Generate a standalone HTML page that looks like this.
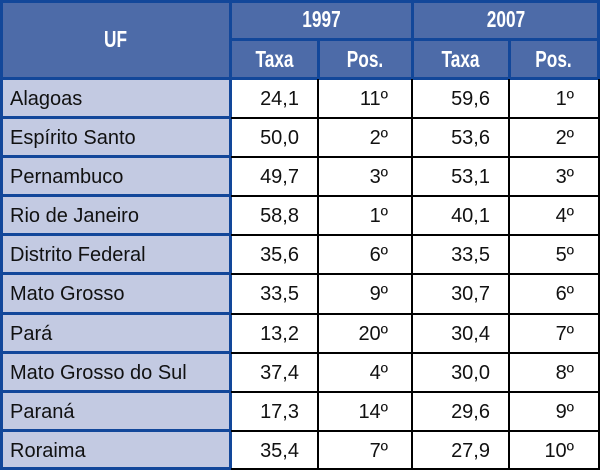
<!DOCTYPE html>
<html><head><meta charset="utf-8"><style>
html,body{margin:0;padding:0;background:#fff;width:600px;height:470px;overflow:hidden;position:relative;font-family:"Liberation Sans",sans-serif;}
div{position:absolute;box-sizing:border-box;}
.h{color:#fff;font-weight:bold;font-size:23px;text-align:center;transform:scaleX(0.75);}
.r{height:39px;line-height:40px;font-size:20px;color:#111;white-space:nowrap;}
.bl{background:#12479a;}
.bk{background:#000;}
</style></head><body>
<div style="left:0;top:0;width:600px;height:79px;background:#4d6ba8"></div>
<div style="left:0;top:79px;width:231px;height:391px;background:#c3cae2"></div>
<div class="bl" style="left:0;top:0;width:600px;height:3px"></div>
<div class="bl" style="left:231px;top:38px;width:369px;height:3px"></div>
<div class="bl" style="left:0;top:77px;width:600px;height:3px"></div>
<div class="bl" style="left:0;top:0;width:3px;height:470px"></div>
<div class="bl" style="left:229px;top:0;width:3px;height:470px"></div>
<div class="bl" style="left:597px;top:0;width:3px;height:79px"></div>
<div class="bl" style="left:411px;top:0;width:3px;height:79px"></div>
<div class="bl" style="left:317px;top:39px;width:3px;height:40px"></div>
<div class="bl" style="left:508px;top:39px;width:3px;height:40px"></div>
<div class="bk" style="left:317px;top:79px;width:2px;height:391px"></div>
<div class="bk" style="left:411px;top:79px;width:2px;height:391px"></div>
<div class="bk" style="left:508px;top:79px;width:2px;height:391px"></div>
<div class="bk" style="left:598px;top:79px;width:2px;height:391px"></div>
<div class="bl" style="left:0;top:116px;width:231px;height:3px"></div><div class="bk" style="left:231px;top:117px;width:369px;height:2px"></div>
<div class="bl" style="left:0;top:155px;width:231px;height:3px"></div><div class="bk" style="left:231px;top:156px;width:369px;height:2px"></div>
<div class="bl" style="left:0;top:194px;width:231px;height:3px"></div><div class="bk" style="left:231px;top:195px;width:369px;height:2px"></div>
<div class="bl" style="left:0;top:233px;width:231px;height:3px"></div><div class="bk" style="left:231px;top:234px;width:369px;height:2px"></div>
<div class="bl" style="left:0;top:272px;width:231px;height:3px"></div><div class="bk" style="left:231px;top:273px;width:369px;height:2px"></div>
<div class="bl" style="left:0;top:312px;width:231px;height:3px"></div><div class="bk" style="left:231px;top:313px;width:369px;height:2px"></div>
<div class="bl" style="left:0;top:351px;width:231px;height:3px"></div><div class="bk" style="left:231px;top:352px;width:369px;height:2px"></div>
<div class="bl" style="left:0;top:390px;width:231px;height:3px"></div><div class="bk" style="left:231px;top:391px;width:369px;height:2px"></div>
<div class="bl" style="left:0;top:429px;width:231px;height:3px"></div><div class="bk" style="left:231px;top:430px;width:369px;height:2px"></div>
<div class="bl" style="left:0;top:467px;width:231px;height:3px"></div><div class="bk" style="left:231px;top:468px;width:369px;height:2px"></div>
<div class="h" style="left:0;top:26px;width:231px;line-height:26px">UF</div>
<div class="h" style="left:231px;top:5px;width:181px;line-height:28px">1997</div>
<div class="h" style="left:412px;top:5px;width:188px;line-height:28px">2007</div>
<div class="h" style="left:231px;top:44px;width:87px;line-height:30px">Taxa</div>
<div class="h" style="left:318px;top:44px;width:94px;line-height:30px">Pos.</div>
<div class="h" style="left:412px;top:44px;width:97px;line-height:30px">Taxa</div>
<div class="h" style="left:509px;top:44px;width:89px;line-height:30px">Pos.</div>
<div style="left:0;top:79px;width:600px;height:391px">
<div class="r" style="left:10px;top:0">Alagoas</div><div class="r" style="left:10px;top:39px">Espírito Santo</div><div class="r" style="left:10px;top:78px">Pernambuco</div><div class="r" style="left:10px;top:117px">Rio de Janeiro</div><div class="r" style="left:10px;top:156px">Distrito Federal</div><div class="r" style="left:10px;top:195px">Mato Grosso</div><div class="r" style="left:10px;top:235px">Pará</div><div class="r" style="left:10px;top:274px">Mato Grosso do Sul</div><div class="r" style="left:10px;top:313px">Paraná</div><div class="r" style="left:10px;top:352px">Roraima</div>
<div style="left:231px;top:0;width:68px;text-align:right">
<div class="r" style="right:0;top:0">24,1</div><div class="r" style="right:0;top:39px">50,0</div><div class="r" style="right:0;top:78px">49,7</div><div class="r" style="right:0;top:117px">58,8</div><div class="r" style="right:0;top:156px">35,6</div><div class="r" style="right:0;top:195px">33,5</div><div class="r" style="right:0;top:235px">13,2</div><div class="r" style="right:0;top:274px">37,4</div><div class="r" style="right:0;top:313px">17,3</div><div class="r" style="right:0;top:352px">35,4</div></div>
<div style="left:318px;top:0;width:70px">
<div class="r" style="right:0;top:0">11º</div><div class="r" style="right:0;top:39px">2º</div><div class="r" style="right:0;top:78px">3º</div><div class="r" style="right:0;top:117px">1º</div><div class="r" style="right:0;top:156px">6º</div><div class="r" style="right:0;top:195px">9º</div><div class="r" style="right:0;top:235px">20º</div><div class="r" style="right:0;top:274px">4º</div><div class="r" style="right:0;top:313px">14º</div><div class="r" style="right:0;top:352px">7º</div></div>
<div style="left:412px;top:0;width:78px">
<div class="r" style="right:0;top:0">59,6</div><div class="r" style="right:0;top:39px">53,6</div><div class="r" style="right:0;top:78px">53,1</div><div class="r" style="right:0;top:117px">40,1</div><div class="r" style="right:0;top:156px">33,5</div><div class="r" style="right:0;top:195px">30,7</div><div class="r" style="right:0;top:235px">30,4</div><div class="r" style="right:0;top:274px">30,0</div><div class="r" style="right:0;top:313px">29,6</div><div class="r" style="right:0;top:352px">27,9</div></div>
<div style="left:509px;top:0;width:65px">
<div class="r" style="right:0;top:0">1º</div><div class="r" style="right:0;top:39px">2º</div><div class="r" style="right:0;top:78px">3º</div><div class="r" style="right:0;top:117px">4º</div><div class="r" style="right:0;top:156px">5º</div><div class="r" style="right:0;top:195px">6º</div><div class="r" style="right:0;top:235px">7º</div><div class="r" style="right:0;top:274px">8º</div><div class="r" style="right:0;top:313px">9º</div><div class="r" style="right:0;top:352px">10º</div></div>
</div>
</body></html>
